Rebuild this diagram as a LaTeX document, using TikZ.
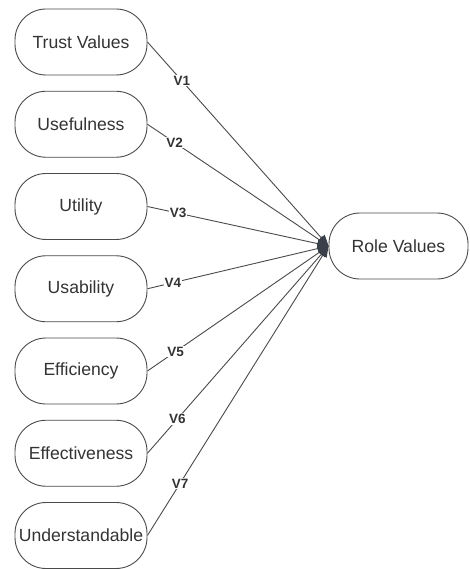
\documentclass[tikz,border=0pt]{standalone}
\usepackage{fontspec}
\setmainfont{Liberation Sans}
\usetikzlibrary{arrows.meta}
\definecolor{txt}{HTML}{333333}
\definecolor{edge}{HTML}{4A4A4A}
\definecolor{tip}{HTML}{3A4049}
\begin{document}
\begin{tikzpicture}[x=1pt,y=-1pt,
  box/.style={draw=edge,line width=0.9pt,rounded corners=31pt,minimum width=132pt,minimum height=66pt,inner sep=0pt,text=txt,font=\fontsize{17.6}{20}\selectfont},
  conn/.style={draw=edge,line width=0.9pt,-{Triangle[length=11pt,width=9pt,fill=tip,color=tip]}},
  lab/.style={fill=white,inner sep=1pt,text=txt,font=\fontsize{13.5}{15}\selectfont\bfseries}]
\useasboundingbox (0,0) rectangle (470,569);
\node[box] (t1) at (81,42) {Trust Values};
\node[box] (t2) at (81,124.25) {Usefulness};
\node[box] (t3) at (81,206.5) {Utility};
\node[box] (t4) at (81,288.75) {Usability};
\node[box] (t5) at (81,371) {Efficiency};
\node[box] (t6) at (81,453.25) {Effectiveness};
\node[box] (t7) at (81,535.5) {Understandable};
\node[box,minimum width=139pt] (role) at (398.5,246) {Role Values};
\draw[conn] (t1.east) -- node[lab,pos=0.19]{V1} (role.west);
\draw[conn] (t2.east) -- node[lab,pos=0.15]{V2} (role.west);
\draw[conn] (t3.east) -- node[lab,pos=0.17]{V3} (role.west);
\draw[conn] (t4.east) -- node[lab,pos=0.14]{V4} (role.west);
\draw[conn] (t5.east) -- node[lab,pos=0.155]{V5} (role.west);
\draw[conn] (t6.east) -- node[lab,pos=0.165]{V6} (role.west);
\draw[conn] (t7.east) -- node[lab,pos=0.18]{V7} (role.west);
\end{tikzpicture}
\end{document}
